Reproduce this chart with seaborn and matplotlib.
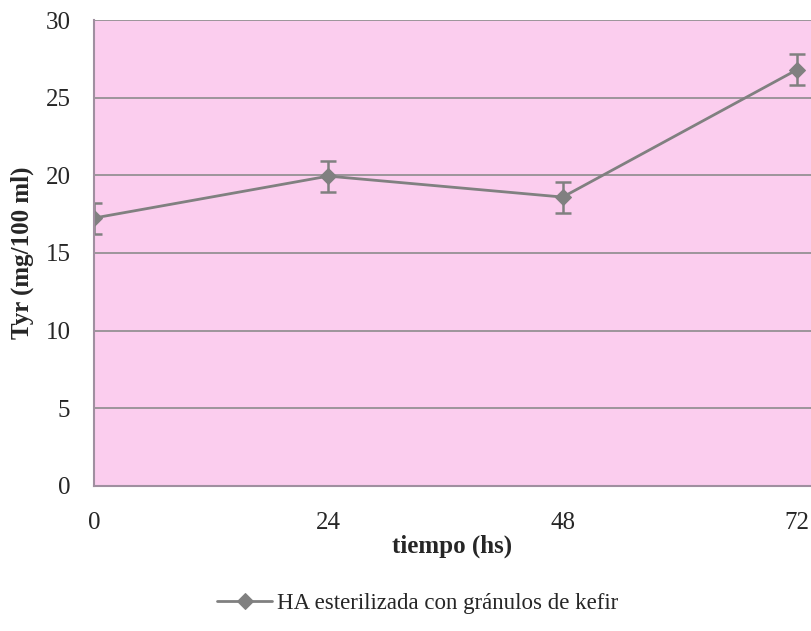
import numpy as np
import pandas as pd
import seaborn as sns
from matplotlib import pyplot as plt

hours = [0, 24, 48, 72]
tyr = [17.25, 19.95, 18.6, 26.8]
tyr_err = [1.0, 1.0, 1.0, 1.0]
series_name = "HA esterilizada con gránulos de kefir"

data = pd.DataFrame({"tiempo": hours, "tyr": tyr, "err": tyr_err})


def plot_data(data, filename):
    sns.set_style("white")
    plt.rcParams["font.family"] = ["Liberation Serif", "DejaVu Serif"]
    fig = plt.figure(figsize=(8.11, 6.31), dpi=100)
    ax = fig.add_axes([0.1159, 0.2298, 0.8841, 0.7385])
    ax.set_facecolor("#FBCDEE")

    grey = "#808080"
    sns.lineplot(data=data, x="tiempo", y="tyr", ax=ax, color=grey, lw=2,
                 marker="D", markersize=8, markeredgecolor=grey,
                 label=series_name, legend=False)
    ax.errorbar(data["tiempo"], data["tyr"], yerr=data["err"], fmt="none",
                ecolor=grey, elinewidth=1.8, capsize=6, capthick=1.8)

    ax.set_xlim(0, 73.43)
    ax.set_ylim(0, 30)
    ax.set_xticks(hours)
    ax.set_yticks(range(0, 31, 5))
    ax.yaxis.grid(True, color="#8C8C8C", lw=1.2)
    ax.set_axisbelow(True)
    for s in ["top", "right"]:
        ax.spines[s].set_visible(False)
    for s in ["left", "bottom"]:
        ax.spines[s].set_color("#A08FA0")
        ax.spines[s].set_linewidth(1.5)
    ax.tick_params(axis="x", direction="in", length=6, color="#A08FA0",
                   labelsize=18, pad=19)
    ax.tick_params(axis="y", length=0, labelsize=18, pad=17)
    ax.set_xlabel("tiempo (hs)", fontsize=18, fontweight="bold", labelpad=0)
    ax.set_ylabel("Tyr (mg/100 ml)", fontsize=18, fontweight="bold", labelpad=8)

    handles, labels = ax.get_legend_handles_labels()
    fig.legend(handles, labels, loc="center", bbox_to_anchor=(0.515, 0.043),
               frameon=False, prop={"family": "Liberation Serif", "size": 16.5},
               handlelength=2.4, handletextpad=0.2)
    plt.savefig(filename, dpi=100)


plot_data(data, "out.png")
